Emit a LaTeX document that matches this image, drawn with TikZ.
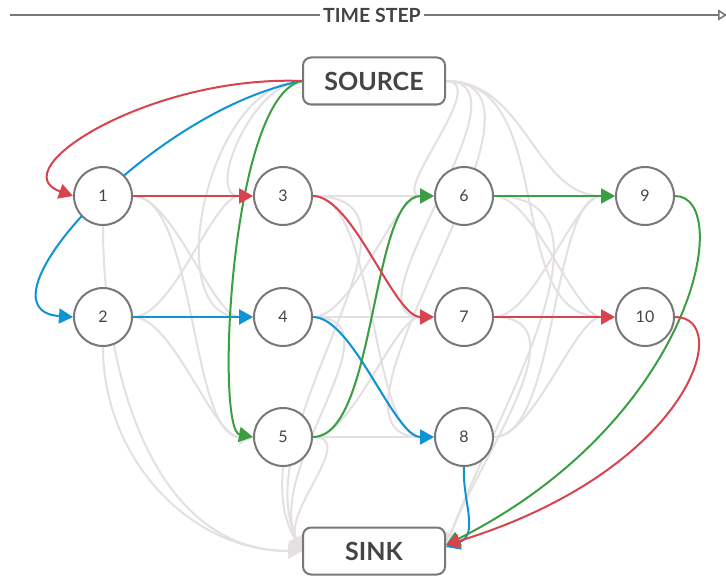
\documentclass[tikz,border=0pt]{standalone}
\usepackage{fontspec}
\setmainfont{Lato}
\usetikzlibrary{arrows.meta}
\definecolor{edgegray}{HTML}{E4DFE2}
\definecolor{framegray}{HTML}{787878}
\definecolor{txt}{HTML}{444444}
\definecolor{pathred}{HTML}{D9434F}
\definecolor{pathblue}{HTML}{0E93D3}
\definecolor{pathgreen}{HTML}{3B9E43}
\pgfdeclarelayer{edges}
\pgfsetlayers{edges,main}
\begin{document}
\begin{tikzpicture}[x=1pt,y=1pt,
  state/.style={circle, draw=framegray, line width=2pt, fill=white,
    minimum size=58pt, inner sep=0pt, text=txt,
    font=\fontsize{16}{16}\selectfont},
  terminal/.style={rectangle, rounded corners=8pt, draw=framegray,
    line width=2pt, fill=white, minimum width=142pt, minimum height=47pt,
    text=txt, font=\bfseries\fontsize{25}{25}\selectfont},
  tip/.style={-{Triangle[length=14pt,width=15pt]}},
  swing/.style={out=0,in=180,looseness=0.6},
  flow/.style={draw=edgegray, line width=2pt, tip},
  red/.style={draw=pathred, line width=2pt, tip},
  blue/.style={draw=pathblue, line width=2pt, tip},
  green/.style={draw=pathgreen, line width=2pt, tip},
  axis/.style={draw=framegray, line width=1.6pt}]
\useasboundingbox (0,0) rectangle (726,-578);

% time axis
\node[text=txt, font=\bfseries\fontsize{19.5}{19.5}\selectfont, inner sep=3pt] (ts) at (372,-15) {TIME STEP};
\coordinate (tsL) at (10,-15);
\coordinate (tsR) at (727,-15);
\draw[axis] (tsL) -- (ts.west);
\draw[axis, -{Triangle[open,length=9pt,width=11pt]}] (ts.east) -- (tsR);

% terminals and states
\node[terminal] (src) at (374,-81) {SOURCE};
\node[terminal] (snk) at (374,-551) {SINK};
\node[state] (n1) at (103,-196) {1};
\node[state] (n2) at (103,-317) {2};
\node[state] (n3) at (283,-196) {3};
\node[state] (n4) at (283,-317) {4};
\node[state] (n5) at (283,-437) {5};
\node[state] (n6) at (464,-196) {6};
\node[state] (n7) at (464,-317) {7};
\node[state] (n8) at (464,-437) {8};
\node[state] (n9) at (645,-196) {9};
\node[state] (n10) at (645,-317) {10};

\begin{pgfonlayer}{edges}
% all possible transitions
\foreach \t in {n3,n4}
  \draw[flow] (src.west) to[out=180,in=180] (\t.west);
\foreach \t in {n6,n7,n8,n9,n10}
  \draw[flow] (src.east) to[out=0,in=180] (\t.west);
\foreach \s in {n1,n2}
  \foreach \t in {n3,n4,n5}
    \draw[flow] (\s.east) to[swing] (\t.west);
\foreach \s in {n3,n4,n5}
  \foreach \t in {n6,n7,n8}
    \draw[flow] (\s.east) to[swing] (\t.west);
\foreach \s in {n6,n7,n8}
  \foreach \t in {n9,n10}
    \draw[flow] (\s.east) to[swing] (\t.west);
\foreach \s in {n1,n2}
  \draw[flow] (\s.south) to[out=-90,in=180] (snk.west);
\foreach \s in {n3,n4,n5}
  \draw[flow] (\s.east) to[out=0,in=115] (snk.west);
\draw[flow] (n5.south) to[out=-95,in=120] (snk.west);
\foreach \s in {n6,n7}
  \draw[flow] (\s.east) to[out=0,in=70] ([yshift=4pt]snk.east);

% highlighted paths
\draw[blue] (src.west) .. controls (150,-110) and (-30,-310) .. (n2.west);
\draw[blue] (n2) -- (n4);
\draw[blue] (n4.east) to[swing] (n8.west);
\draw[blue] (n8.south) .. controls (462,-500) and (480,-535) .. ([yshift=4pt]snk.east);

\draw[green] (src.west) .. controls (230,-95) and (215,-430) .. (n5.west);
\draw[green] (n5.east) to[swing] (n6.west);
\draw[green] (n6) -- (n9);
\draw[green] (n9.east) .. controls (735,-196) and (695,-420) .. ([yshift=6pt]snk.east);

\draw[red] (src.west) .. controls (150,-75) and (0,-170) .. (n1.west);
\draw[red] (n1) -- (n3);
\draw[red] (n3.east) to[swing] (n7.west);
\draw[red] (n7) -- (n10);
\draw[red] (n10.east) .. controls (735,-317) and (690,-470) .. ([yshift=6pt]snk.east);
\end{pgfonlayer}
\end{tikzpicture}
\end{document}
